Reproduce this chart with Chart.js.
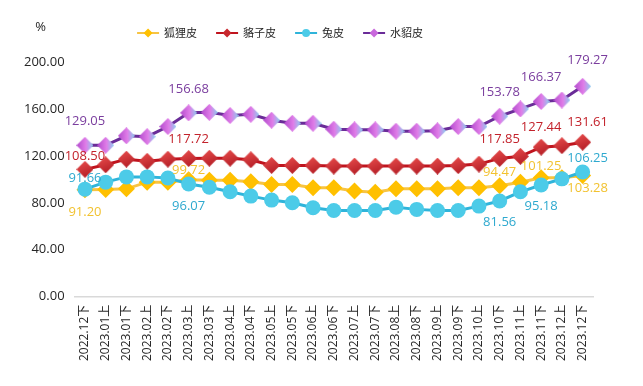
<!DOCTYPE html>
<html>
<head>
<meta charset="utf-8">
<script src="https://cdn.jsdelivr.net/npm/chart.js@4.4.0/dist/chart.umd.min.js"></script>
<style>
    html, body { margin: 0; padding: 0; background: #fff; }
</style>
</head>
<body>
<canvas id="myChart" width="643" height="386"></canvas>
<script>
const categories = [
    '2022.12下', '2023.01上', '2023.01下', '2023.02上', '2023.02下', '2023.03上', '2023.03下',
    '2023.04上', '2023.04下', '2023.05上', '2023.05下', '2023.06上', '2023.06下', '2023.07上',
    '2023.07下', '2023.08上', '2023.08下', '2023.09上', '2023.09下', '2023.10上', '2023.10下',
    '2023.11上', '2023.11下', '2023.12上', '2023.12下'
];
const seriesNames = ['狐狸皮', '貉子皮', '兔皮', '水貂皮'];

// values
const foxData = [91.20, 91.4, 91.9, 97.6, 97.6, 99.72, 99.3, 99.3, 97.9, 95.6, 95.6, 92.8,
    92.8, 90.0, 89.1, 92.0, 92.0, 92.0, 92.8, 92.8, 94.47, 97.6, 101.25, 101.4, 103.28];
const raccoonData = [108.50, 112.4, 117.2, 115.4, 117.2, 117.72, 118.0, 118.0, 116.7, 111.9, 111.9, 111.9,
    111.3, 111.3, 111.3, 111.3, 111.3, 111.3, 111.7, 113.0, 117.85, 119.6, 127.44, 128.7, 131.61];
const rabbitData = [91.66, 97.6, 102.1, 102.1, 101.2, 96.07, 93.3, 89.4, 85.7, 82.3, 80.1, 75.8,
    73.5, 73.5, 73.5, 76.3, 74.4, 73.5, 73.5, 77.2, 81.56, 89.4, 95.18, 100.4, 106.25];
const minkData = [129.05, 129.0, 137.1, 136.4, 145.0, 156.68, 157.1, 154.4, 155.4, 150.4, 147.8, 147.8,
    142.7, 142.2, 142.2, 141.0, 141.0, 141.4, 145.0, 145.0, 153.78, 160.0, 166.37, 167.6, 179.27];
const labelIndices = [0, 5, 20, 22, 24];

const yMin = 0;
const yMax = 200;
const yStep = 40;

function makeDiamond(size, x0, y0, x1, y1, stops) {
    const c = document.createElement('canvas');
    c.width = size;
    c.height = size;
    const g = c.getContext('2d');
    const h = size / 2;
    const grad = g.createLinearGradient(x0 * size, y0 * size, x1 * size, y1 * size);
    stops.forEach(s => grad.addColorStop(s[0], s[1]));
    g.fillStyle = grad;
    g.beginPath();
    g.moveTo(h, 0);
    g.lineTo(size, h);
    g.lineTo(h, size);
    g.lineTo(0, h);
    g.closePath();
    g.fill();
    return c;
}

const redDiamond = makeDiamond(17, 0.3, 0, 0.7, 1, [[0, '#e54a4a'], [1, '#b31d25']]);
const purpleDiamond = makeDiamond(17, 0, 0.5, 1, 0.5, [[0, '#b24acd'], [0.55, '#e07de8'], [1, '#8ccff0']]);

// value labels on a few points
const pointLabels = {
    id: 'pointLabels',
    afterDatasetsDraw(chart) {
        const ctx = chart.ctx;
        ctx.save();
        ctx.font = '13px "Open Sans"';
        ctx.textAlign = 'center';
        ctx.textBaseline = 'middle';
        chart.data.datasets.forEach((ds, di) => {
            const meta = chart.getDatasetMeta(di);
            ctx.fillStyle = ds.labelColor;
            labelIndices.forEach((idx, k) => {
                const p = meta.data[idx];
                const dx = idx === categories.length - 1 ? 5 : 0;
                ctx.fillText(ds.data[idx].toFixed(2), p.x + dx, p.y + ds.labelDy[k]);
            });
        });
        ctx.restore();
    }
};

// legend with line + marker, and the % unit
const topLegend = {
    id: 'topLegend',
    afterDraw(chart) {
        const ctx = chart.ctx;
        const y = 33;
        let x = chart.chartArea.left + 62.5;
        ctx.save();
        ctx.font = '11px "Noto Sans CJK SC"';
        ctx.textBaseline = 'middle';
        ctx.textAlign = 'left';
        chart.data.datasets.forEach(ds => {
            ctx.strokeStyle = ds.borderColor;
            ctx.lineWidth = 2;
            ctx.beginPath();
            ctx.moveTo(x, y);
            ctx.lineTo(x + 22, y);
            ctx.stroke();
            ctx.fillStyle = ds.legendColor;
            ctx.beginPath();
            if (ds.legendMarker === 'circle') {
                ctx.arc(x + 11, y, 4, 0, Math.PI * 2);
            } else {
                ctx.moveTo(x + 11, y - 4.5);
                ctx.lineTo(x + 15.5, y);
                ctx.lineTo(x + 11, y + 4.5);
                ctx.lineTo(x + 6.5, y);
                ctx.closePath();
            }
            ctx.fill();
            ctx.fillStyle = '#262626';
            ctx.fillText(ds.label, x + 27, y);
            x += 27 + ctx.measureText(ds.label).width + 19;
        });
        ctx.font = '13px "Open Sans"';
        ctx.fillStyle = '#262626';
        ctx.textAlign = 'center';
        ctx.fillText('%', chart.chartArea.left - 34, 27);
        ctx.restore();
    }
};

const ctx = document.getElementById('myChart').getContext('2d');
const myChart = new Chart(ctx, {
    type: 'line',
    data: {
        labels: categories,
        datasets: [{
            label: seriesNames[0],
            data: foxData,
            order: 3,
            borderColor: '#f7c444',
            backgroundColor: '#ffc000',
            borderWidth: 3,
            pointStyle: 'rectRot',
            pointRadius: 8.5,
            pointBorderWidth: 0,
            labelColor: '#f2c230',
            labelDy: [23, -9, -14, -12, 13],
            legendColor: '#ffc000',
            legendMarker: 'diamond'
        }, {
            label: seriesNames[1],
            data: raccoonData,
            order: 2,
            borderColor: '#c0141e',
            backgroundColor: '#d03030',
            borderWidth: 3,
            pointStyle: redDiamond,
            labelColor: '#c3222b',
            labelDy: [-13, -19, -19, -20, -20],
            legendColor: '#c8282e',
            legendMarker: 'diamond'
        }, {
            label: seriesNames[2],
            data: rabbitData,
            order: 1,
            borderColor: '#2fb4da',
            backgroundColor: '#4ccbe8',
            borderWidth: 3,
            pointStyle: 'circle',
            pointRadius: 7.5,
            pointBorderWidth: 0,
            labelColor: '#2ea9cf',
            labelDy: [-11, 22, 21, 21, -14],
            legendColor: '#4ccbe8',
            legendMarker: 'circle'
        }, {
            label: seriesNames[3],
            data: minkData,
            order: 0,
            borderColor: '#6a2c98',
            backgroundColor: '#d070e0',
            borderWidth: 3,
            pointStyle: purpleDiamond,
            labelColor: '#7a3d9e',
            labelDy: [-24, -24, -24, -24, -26],
            legendColor: '#c868dc',
            legendMarker: 'diamond'
        }]
    },
    options: {
        responsive: false,
        animation: false,
        devicePixelRatio: 1,
        layout: {
            padding: { top: 62, right: 50, bottom: 17, left: 14 }
        },
        elements: {
            line: { tension: 0 }
        },
        plugins: {
            legend: { display: false },
            tooltip: { enabled: false }
        },
        scales: {
            x: {
                offset: true,
                grid: { display: false, drawTicks: false },
                border: { display: true, color: '#d9d9d9', width: 1.5 },
                ticks: {
                    color: '#262626',
                    font: { family: '"Open Sans", "Noto Sans CJK SC"', size: 12 },
                    maxRotation: 90,
                    minRotation: 90,
                    autoSkip: false,
                    padding: 8
                }
            },
            y: {
                min: yMin,
                max: yMax,
                grid: { display: false, drawTicks: false },
                border: { display: false },
                ticks: {
                    stepSize: yStep,
                    color: '#262626',
                    font: { family: '"Open Sans"', size: 13 },
                    padding: 10,
                    callback: v => Number(v).toFixed(2)
                }
            }
        }
    },
    plugins: [pointLabels, topLegend]
});
</script>
</body>
</html>
